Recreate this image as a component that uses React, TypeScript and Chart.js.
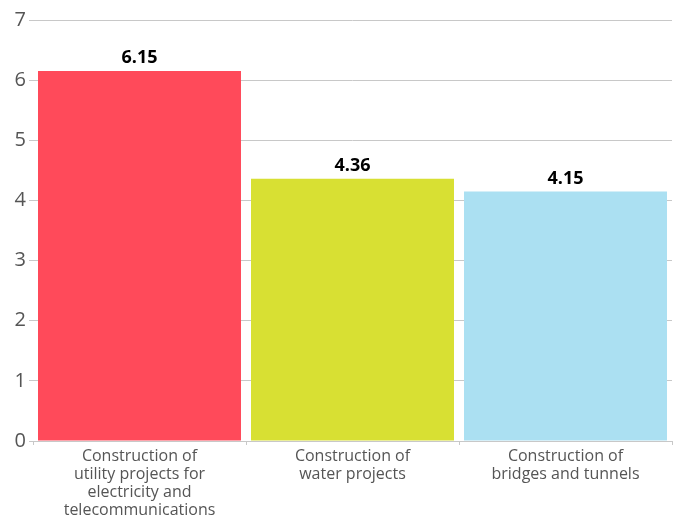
import React, { useEffect, useRef } from "react";
import { Chart, registerables } from "chart.js";

Chart.register(...registerables);

const categories: string[][] = [
  ["Construction of", "utility projects for", "electricity and", "telecommunications"],
  ["Construction of", "water projects"],
  ["Construction of", "bridges and tunnels"],
];
const values: number[] = [6.15, 4.36, 4.15];
const barColors: string[] = ["#FF4A5A", "#D8E033", "#ABE0F2"];
const yMax = 7;

const valueLabels = {
  id: "valueLabels",
  afterDatasetsDraw(chart: any) {
    const ctx = chart.ctx;
    const meta = chart.getDatasetMeta(0);
    ctx.save();
    ctx.font = "bold 18px 'Open Sans', sans-serif";
    ctx.fillStyle = "#000";
    ctx.textAlign = "center";
    ctx.textBaseline = "bottom";
    meta.data.forEach((bar: any, i: number) => {
      ctx.fillText(values[i].toFixed(2), bar.x, bar.y - 4);
    });
    ctx.restore();
  },
};

export default function App() {
  const ref = useRef<HTMLCanvasElement>(null);
  useEffect(() => {
    if (!ref.current) return;
    const chart = new Chart(ref.current, {
      type: "bar",
      data: {
        labels: categories as any,
        datasets: [
          {
            data: values,
            backgroundColor: barColors,
            barPercentage: 0.953,
            categoryPercentage: 1,
          },
        ],
      },
      options: {
        animation: false,
        responsive: true,
        maintainAspectRatio: false,
        layout: { padding: { top: 20, right: 9, left: 0, bottom: 0 } },
        plugins: { legend: { display: false }, tooltip: { enabled: false } },
        scales: {
          x: {
            grid: {
              drawOnChartArea: false,
              drawTicks: true,
              tickLength: 4,
              color: "#c8c8c8",
            },
            border: { color: "#c8c8c8" },
            ticks: {
              color: "#555",
              font: { family: "'Open Sans', sans-serif", size: 16, lineHeight: 1.125 },
              maxRotation: 0,
              autoSkip: false,
              padding: 2,
            },
            afterFit: (s: any) => {
              s.height = 78;
            },
          },
          y: {
            min: 0,
            max: yMax,
            ticks: {
              stepSize: 1,
              color: "#555",
              font: { family: "'Open Sans', sans-serif", size: 20 },
              padding: 3,
            },
            grid: { color: "#c8c8c8", tickLength: 4 },
            border: { display: false },
            afterFit: (s: any) => {
              s.width = 33;
            },
          },
        },
      },
      plugins: [valueLabels],
    });
    return () => chart.destroy();
  }, []);
  return (
    <div style={{ position: "fixed", left: 0, top: 0, width: 681, height: 519, background: "#fff" }}>
      <canvas ref={ref} />
    </div>
  );
}
